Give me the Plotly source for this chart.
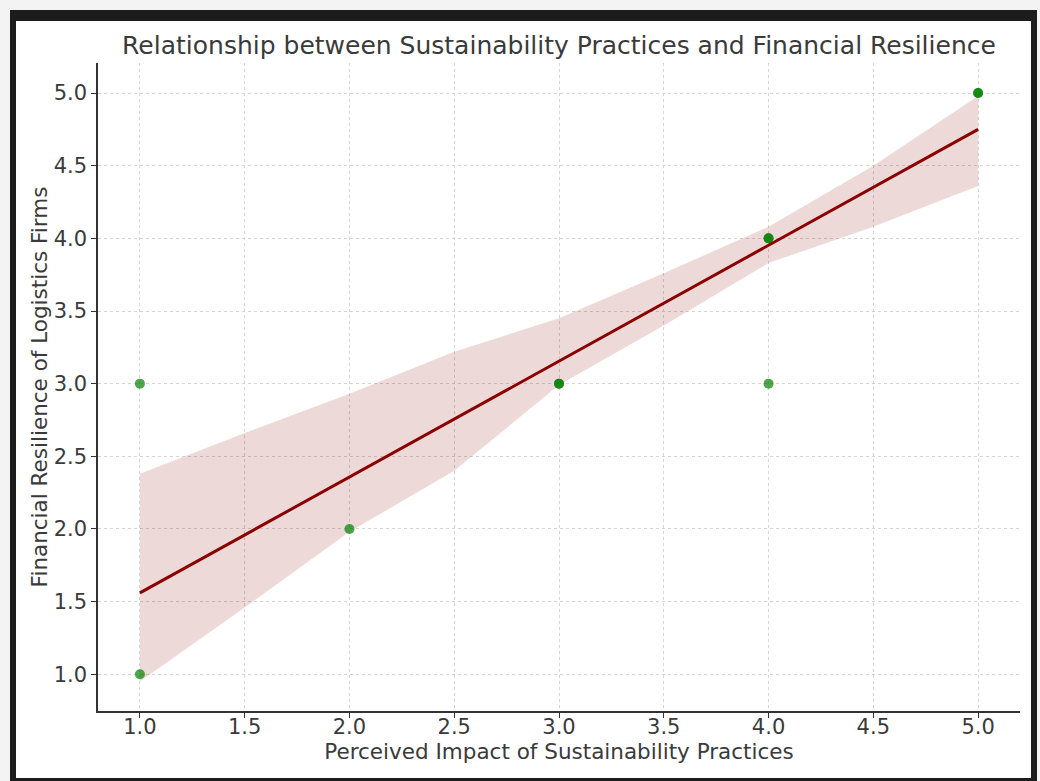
import plotly.graph_objects as go

# ---- data ----
impact = [1, 1, 2, 3, 3, 4, 4, 4, 5, 5]
resilience = [1, 3, 2, 3, 3, 4, 4, 3, 5, 5]

fit_x = [1.0, 5.0]
fit_y = [1.56, 4.75]

band_x = [1.0, 1.5, 2.0, 2.5, 3.0, 3.5, 4.0, 4.5, 5.0]
band_upper = [2.38, 2.66, 2.93, 3.22, 3.45, 3.76, 4.08, 4.50, 4.98]
band_lower = [0.95, 1.46, 1.98, 2.40, 2.99, 3.40, 3.83, 4.08, 4.36]

x_ticks = [1.0, 1.5, 2.0, 2.5, 3.0, 3.5, 4.0, 4.5, 5.0]
y_ticks = [1.0, 1.5, 2.0, 2.5, 3.0, 3.5, 4.0, 4.5, 5.0]

title_text = "Relationship between Sustainability Practices and Financial Resilience"
x_label = "Perceived Impact of Sustainability Practices"
y_label = "Financial Resilience of Logistics Firms"

W, H = 1040, 781
L, R, T, B = 98, 20, 63, 70
pw = W - L - R
ph = H - T - B

def px_x(p):
    return (p - L) / pw

def px_y(p):
    return (H - B - p) / ph

FONT = "DejaVu Sans"
TXT = "#3a3a3a"

fig = go.Figure()

# confidence band
fig.add_trace(go.Scatter(
    x=band_x + band_x[::-1],
    y=band_upper + band_lower[::-1],
    fill="toself",
    fillcolor="rgba(139,0,0,0.15)",
    line=dict(width=0),
    mode="lines",
    hoverinfo="skip",
    showlegend=False,
))

# scatter points (semi-transparent so overlaps look darker)
for xi, yi in zip(impact, resilience):
    fig.add_trace(go.Scatter(
        x=[xi], y=[yi], mode="markers",
        marker=dict(color="rgba(0,128,0,0.7)", size=10, line=dict(width=0)),
        showlegend=False,
    ))

# regression line
fig.add_trace(go.Scatter(
    x=fit_x, y=fit_y, mode="lines",
    line=dict(color="#8b0000", width=3),
    showlegend=False,
))

# frame around the picture
shapes = [
    dict(type="rect", xref="paper", yref="paper", layer="below",
         x0=px_x(10), x1=px_x(1037), y0=px_y(785), y1=px_y(10),
         fillcolor="#1c1c1c", line=dict(width=0)),
    dict(type="rect", xref="paper", yref="paper", layer="below",
         x0=px_x(16), x1=px_x(1031), y0=px_y(778), y1=px_y(21),
         fillcolor="white", line=dict(width=0)),
]

axis_common = dict(
    showline=True, linecolor="#333333", linewidth=1.5,
    ticks="outside", ticklen=5, tickwidth=1.2, tickcolor="#333333",
    showgrid=True, gridcolor="#d4d4d4", gridwidth=1, griddash="3px,3px",
    zeroline=False, mirror=False,
    tickfont=dict(family=FONT, size=21, color=TXT),
    tickformat=".1f",
)

fig.update_layout(
    width=W, height=H,
    margin=dict(l=L, r=R, t=T, b=B, autoexpand=False),
    paper_bgcolor="#f3f3f3",
    plot_bgcolor="rgba(0,0,0,0)",
    shapes=shapes,
    title=dict(text=title_text, x=(L + pw / 2) / W, xanchor="center",
               y=1 - 45 / H, yanchor="middle", yref="container",
               font=dict(family=FONT, size=25, color=TXT)),
    xaxis=dict(range=[0.8, 5.2], tickvals=x_ticks, ticklabelstandoff=-9,
               title=dict(text=x_label, standoff=2,
                          font=dict(family=FONT, size=21.5, color=TXT)),
               **axis_common),
    yaxis=dict(range=[0.747, 5.207], tickvals=y_ticks,
               title=dict(text=y_label, standoff=0,
                          font=dict(family=FONT, size=21.5, color=TXT)),
               **axis_common),
)

fig.write_html(
    "out.html",
    config={"displayModeBar": False},
    post_script="document.body.style.margin='0';document.body.style.background='#f3f3f3';",
)
